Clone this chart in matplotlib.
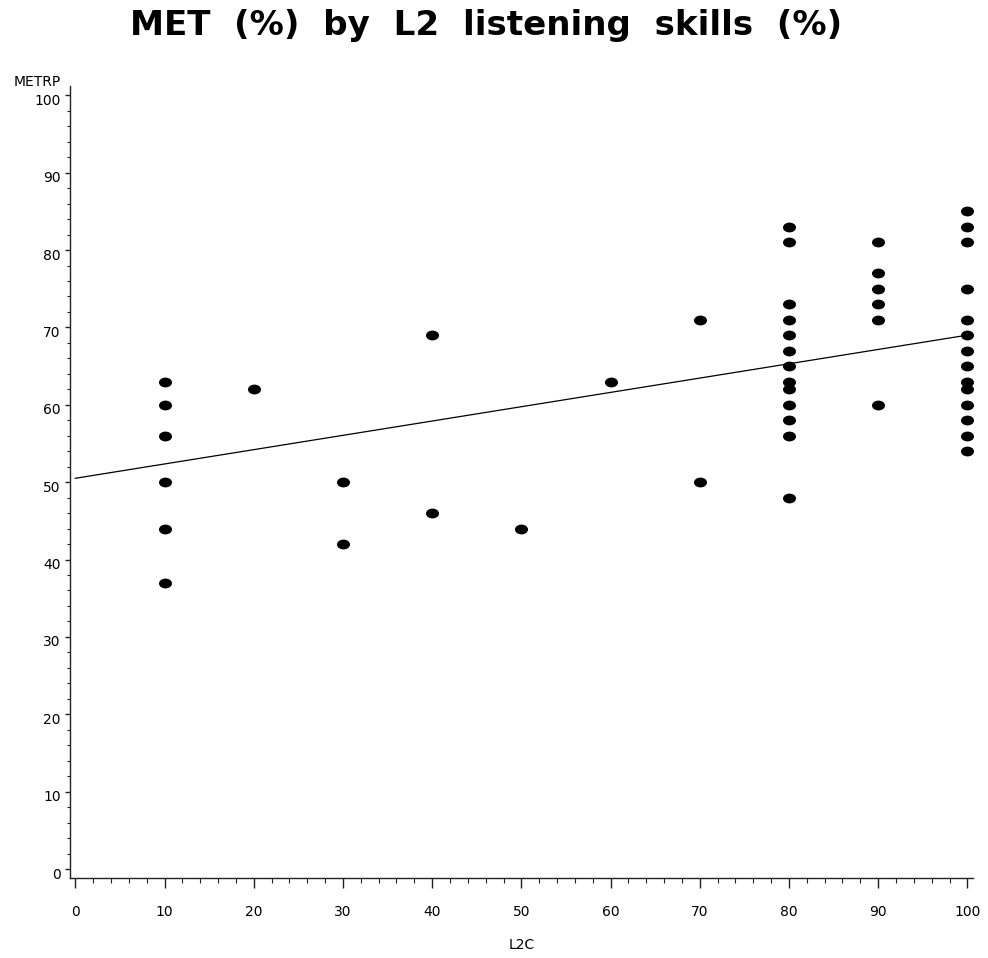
import numpy as np
import matplotlib
matplotlib.use("Agg")
import matplotlib.pyplot as plt
from matplotlib.path import Path
from matplotlib.transforms import Affine2D, ScaledTranslation

# Data
l2c_10 = [10] * 6
met_10 = [63, 60, 56, 50, 44, 37]
l2c_mid = [20, 30, 30, 40, 40, 50, 60, 70, 70]
met_mid = [62, 50, 42, 69, 46, 44, 63, 71, 50]
l2c_80 = [80] * 13
met_80 = [83, 81, 73, 71, 69, 67, 65, 63, 62, 60, 58, 56, 48]
l2c_90 = [90] * 6
met_90 = [81, 77, 75, 73, 71, 60]
l2c_100 = [100] * 14
met_100 = [85, 83, 81, 75, 71, 69, 67, 65, 63, 62, 60, 58, 56, 54]

# regression line as drawn in the reference (values at L2C = 0 and 100)
fit_x = [0, 100]
fit_y = [50.5, 69.0]

x_ticks = [0, 10, 20, 30, 40, 50, 60, 70, 80, 90, 100]
y_ticks = [0, 10, 20, 30, 40, 50, 60, 70, 80, 90, 100]

title = "MET  (%)  by  L2  listening  skills  (%)"
x_label = "L2C"
y_label = "METRP"

x = np.array(l2c_10 + l2c_mid + l2c_80 + l2c_90 + l2c_100, dtype=float)
y = np.array(met_10 + met_mid + met_80 + met_90 + met_100, dtype=float)

W, H, DPI = 988, 958, 100
fig = plt.figure(figsize=(W / DPI, H / DPI), dpi=DPI)
ax = fig.add_axes([70 / W, 1 - 878.3 / H, (972.7 - 70) / W, (878.3 - 86) / H])

# elliptical marker (wider than tall)
ell = Path.unit_circle().transformed(Affine2D().scale(1.33, 1.0))
ax.plot(x, y, linestyle="none", marker=ell, markersize=9.4,
        color="black", markeredgewidth=0)

ax.plot(fit_x, fit_y, color="black", lw=0.9)

ax.set_xlim(-0.6, 100.6)
ax.set_ylim(-1.2, 101.2)
ax.set_xticks(x_ticks)
ax.set_yticks(y_ticks)
ax.set_xticks(np.arange(0, 101, 2), minor=True)
ax.set_yticks(np.arange(0, 101, 2), minor=True)

for s in ["top", "right"]:
    ax.spines[s].set_visible(False)
for s in ["left", "bottom"]:
    ax.spines[s].set_linewidth(1.0)
    ax.spines[s].set_color("#222222")

ax.tick_params(axis="x", which="major", length=7.2, width=1.0, pad=12,
               labelsize=10, colors="#222222", labelcolor="black")
ax.tick_params(axis="x", which="minor", length=3.6, width=0.8, colors="#222222")
ax.tick_params(axis="y", which="major", length=3.6, width=1.0, pad=3,
               labelsize=10, colors="#222222", labelcolor="black")
ax.tick_params(axis="y", which="minor", length=2.0, width=0.8, colors="#222222")

off = ScaledTranslation(0, -4 / DPI, fig.dpi_scale_trans)
for lab in ax.get_yticklabels():
    lab.set_transform(lab.get_transform() + off)

ax.set_xlabel(x_label, fontsize=10, va="center")
ax.xaxis.set_label_coords(0.5, -66.7 / 792.3)
ax.set_ylabel(y_label, fontsize=10, rotation=0, ha="right", va="center")
ax.yaxis.set_label_coords(-9.3 / 902.7, (878.3 - 82) / 792.3)

fig.text(486.5 / W, 1 - 34.5 / H, title, ha="center", va="baseline",
         fontsize=24.6, fontweight="bold", family="DejaVu Sans")

fig.savefig("out.png", dpi=DPI)
